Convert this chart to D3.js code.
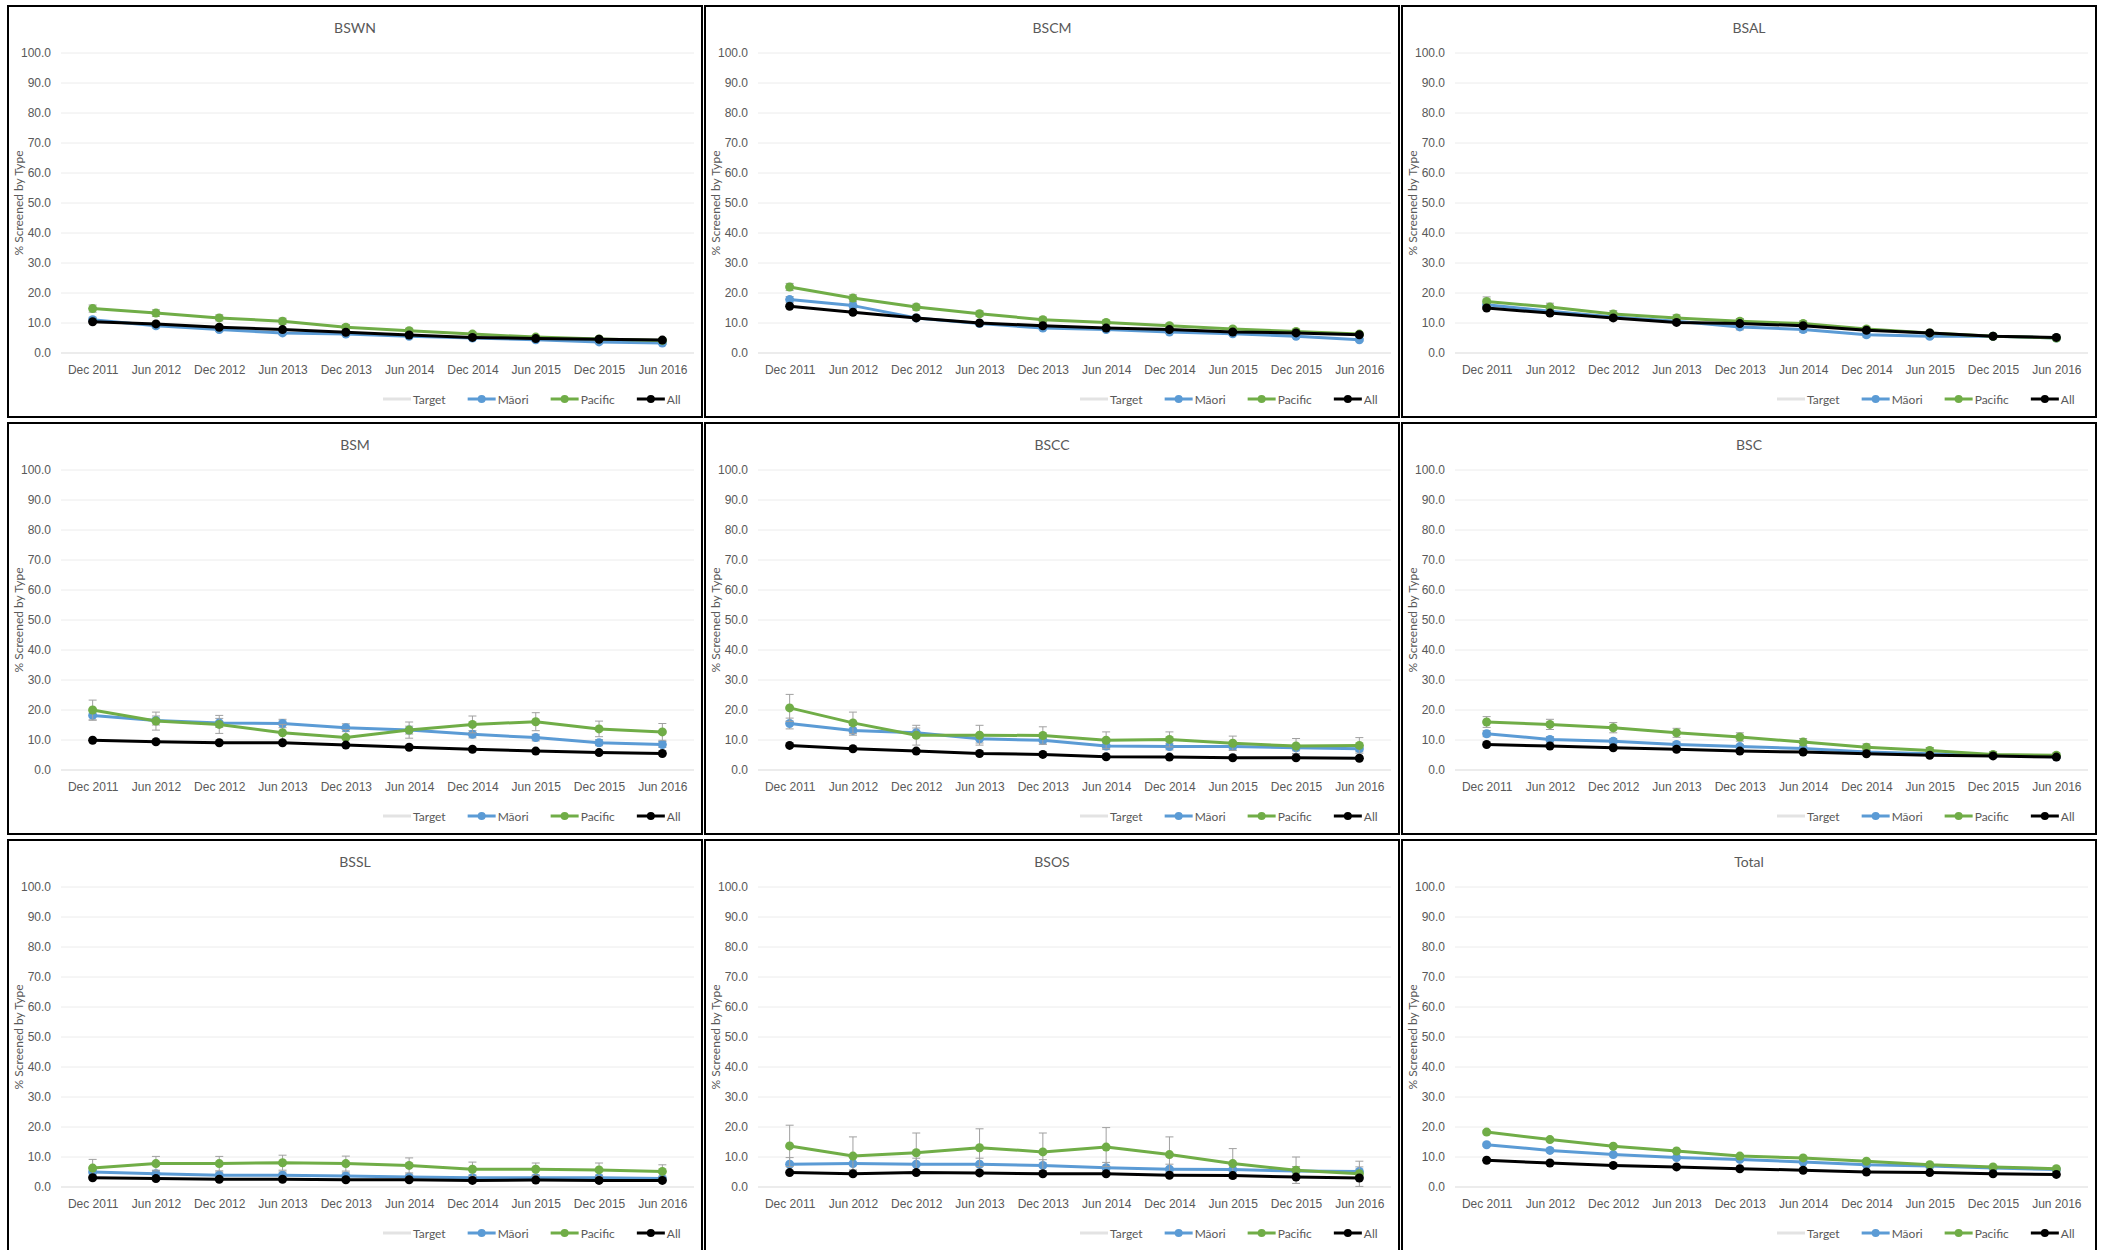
<!DOCTYPE html>
<html>
<head>
<meta charset="utf-8">
<script src="https://cdn.jsdelivr.net/npm/d3@7"></script>
<style>
  html, body { margin: 0; padding: 0; background: #fff; }
  svg { display: block; font-family: Lato, "Open Sans", sans-serif; }
</style>
</head>
<body>
<svg id="chart" width="2105" height="1250"></svg>
<script>
// ---- Data ----
const periods = ["Dec 2011","Jun 2012","Dec 2012","Jun 2013","Dec 2013","Jun 2014","Dec 2014","Jun 2015","Dec 2015","Jun 2016"];
const panelNames = ["BSWN","BSCM","BSAL","BSM","BSCC","BSC","BSSL","BSOS","Total"];
const yTickValues = [0,10,20,30,40,50,60,70,80,90,100];
const legendNames = ["Target","Māori","Pacific","All"];
const yAxisTitle = "% Screened by Type";

const maoriValues = [
  [11.1,9.1,7.8,6.7,6.3,5.6,5.0,4.4,3.7,3.3],
  [17.8,15.8,11.7,9.8,8.3,7.8,7.0,6.4,5.6,4.4],
  [16.1,13.9,12.0,10.6,8.7,7.8,6.1,5.6,5.6,5.0],
  [18.2,16.5,15.7,15.5,14.1,13.3,11.9,10.8,9.1,8.5],
  [15.5,13.2,12.4,10.4,9.9,8.0,7.8,7.8,7.4,7.1],
  [12.1,10.2,9.6,8.5,7.8,7.2,6.0,5.4,4.9,4.4],
  [5.0,4.4,3.9,3.9,3.7,3.3,3.1,3.1,3.1,2.8],
  [7.6,7.8,7.6,7.6,7.2,6.4,5.9,5.8,5.3,5.2],
  [14.1,12.2,10.8,9.8,9.2,8.3,7.4,7.0,6.3,5.8]
];
const pacificValues = [
  [14.8,13.3,11.7,10.6,8.6,7.4,6.3,5.3,4.7,4.2],
  [22.0,18.3,15.3,13.1,11.1,10.2,9.1,8.0,7.2,6.3],
  [17.2,15.3,13.0,11.7,10.6,9.8,8.0,6.7,5.6,5.0],
  [20.0,16.3,15.2,12.4,10.8,13.3,15.2,16.1,13.7,12.7],
  [20.7,15.7,11.6,11.6,11.5,9.9,10.2,8.9,8.0,8.2],
  [16.0,15.2,14.1,12.4,11.0,9.3,7.6,6.5,5.2,4.9],
  [6.3,7.8,7.8,8.1,7.8,7.2,5.9,5.9,5.7,5.2],
  [13.7,10.3,11.4,13.1,11.7,13.3,10.8,7.8,5.6,4.4],
  [18.3,15.8,13.6,12.0,10.3,9.7,8.6,7.4,6.7,6.1]
];
const allValues = [
  [10.4,9.7,8.6,7.8,6.9,6.0,5.2,4.8,4.6,4.3],
  [15.6,13.6,11.7,10.0,9.1,8.3,7.8,7.0,6.7,6.1],
  [15.0,13.3,11.7,10.2,9.8,9.1,7.6,6.7,5.6,5.2],
  [9.9,9.4,9.1,9.1,8.3,7.6,6.9,6.3,5.8,5.5],
  [8.2,7.1,6.3,5.5,5.2,4.4,4.3,4.1,4.1,3.9],
  [8.5,8.0,7.4,6.9,6.3,6.0,5.4,4.9,4.7,4.3],
  [3.1,2.8,2.6,2.6,2.4,2.4,2.2,2.3,2.2,2.2],
  [4.8,4.4,4.8,4.7,4.4,4.4,3.9,3.8,3.3,3.0],
  [8.9,8.0,7.2,6.7,6.1,5.6,5.0,4.8,4.4,4.2]
];
const pacificErrors = [
  [1.2,1.1,1.0,1.0,0.9,0.8,0.7,0.6,0.6,0.5],
  [1.2,1.1,1.0,0.9,0.8,0.7,0.7,0.6,0.6,0.5],
  [1.5,1.3,1.1,1.0,0.9,0.9,0.8,0.7,0.6,0.6],
  [3.3,3.0,3.0,2.8,2.7,2.7,2.8,3.0,2.6,2.8],
  [4.5,3.6,3.3,3.3,2.9,2.8,2.5,2.4,2.5,2.6],
  [1.8,1.7,1.7,1.5,1.4,1.2,1.1,1.0,0.9,0.8],
  [2.9,2.4,2.4,2.5,2.5,2.5,2.4,2.1,2.3,2.2],
  [6.9,6.4,6.6,6.3,6.3,6.5,5.9,5.0,4.4,4.2],
  [0.6,0.5,0.5,0.5,0.4,0.4,0.4,0.3,0.3,0.3]
];
const maoriErrors = [
  [0.8,0.7,0.6,0.6,0.5,0.5,0.5,0.4,0.4,0.4],
  [1.0,0.9,0.8,0.7,0.6,0.6,0.5,0.5,0.5,0.4],
  [1.6,1.4,1.2,1.1,1.0,0.9,0.8,0.7,0.7,0.6],
  [1.6,1.5,1.5,1.4,1.3,1.3,1.2,1.1,1.0,1.0],
  [1.8,1.6,1.6,1.4,1.3,1.2,1.1,1.1,1.0,1.0],
  [1.0,0.9,0.9,0.8,0.7,0.7,0.6,0.6,0.5,0.5],
  [1.3,1.2,1.1,1.1,1.0,1.0,0.9,0.9,0.9,0.8],
  [2.2,2.1,2.0,2.0,1.9,1.8,1.7,1.6,1.5,1.5],
  [0.5,0.4,0.4,0.4,0.4,0.3,0.3,0.3,0.3,0.3]
];

// ---- Layout / style ----
const colLefts = [8, 705, 1402];
const rowTops = [6, 423, 840];
const panelW = 694, panelH = 411;
const plotL = 53, plotR = 686, plotTop = 47, plotBottom = 347;
const colors = { target: "#e3e3e3", maori: "#5b9bd5", pacific: "#70ad47", all: "#000000", err: "#a0a0a0" };
const textColor = "#595959";

const svg = d3.select("#chart");

panelNames.forEach((name, i) => {
  const left = colLefts[i % 3], top = rowTops[Math.floor(i / 3)];
  const g = svg.append("g").attr("transform", `translate(${left},${top})`);

  g.append("rect").attr("x", 0).attr("y", 0).attr("width", panelW).attr("height", panelH)
    .attr("fill", "#fff").attr("stroke", "#000").attr("stroke-width", 2);

  const x = d3.scalePoint().domain(periods).range([plotL, plotR]).padding(0.5);
  const y = d3.scaleLinear().domain([0, 100]).range([plotBottom, plotTop]);

  // gridlines
  g.append("g").selectAll("line").data(yTickValues).join("line")
    .attr("x1", plotL).attr("x2", plotR)
    .attr("y1", d => y(d)).attr("y2", d => y(d))
    .attr("stroke", d => d === 0 ? "#d9d9d9" : "#ececec").attr("stroke-width", 1);

  // y axis
  const ya = g.append("g").attr("transform", `translate(${plotL},0)`)
    .call(d3.axisLeft(y).tickValues(yTickValues).tickFormat(d3.format(".1f")).tickSize(0).tickPadding(10));
  ya.select(".domain").remove();
  ya.selectAll("text").attr("fill", textColor).style("font-size", "12px");

  // x axis
  const xa = g.append("g").attr("transform", `translate(0,${plotBottom})`)
    .call(d3.axisBottom(x).tickSize(0).tickPadding(12));
  xa.select(".domain").remove();
  xa.selectAll("text").attr("fill", textColor).style("font-size", "12px");

  // title
  g.append("text").attr("x", panelW / 2).attr("y", 21).attr("text-anchor", "middle")
    .attr("dominant-baseline", "central").attr("fill", textColor).style("font-size", "14px").text(name);

  // y axis title
  g.append("text").attr("transform", `translate(10,${(plotTop + plotBottom) / 2}) rotate(-90)`)
    .attr("text-anchor", "middle").attr("dominant-baseline", "central")
    .attr("fill", textColor).style("font-size", "12px").text(yAxisTitle);

  const series = [
    { vals: maoriValues[i], errs: maoriErrors[i], color: colors.maori },
    { vals: pacificValues[i], errs: pacificErrors[i], color: colors.pacific },
    { vals: allValues[i], errs: null, color: colors.all }
  ];
  const line = d3.line().x((d, k) => x(periods[k])).y(d => y(d));

  series.forEach(s => {
    if (s.errs) {
      const eg = g.append("g");
      s.vals.forEach((v, k) => {
        const cx = x(periods[k]);
        const y1 = y(v + s.errs[k]), y2 = y(Math.max(0, v - s.errs[k]));
        eg.append("line").attr("x1", cx).attr("x2", cx).attr("y1", y1).attr("y2", y2)
          .attr("stroke", colors.err).attr("stroke-width", 1);
        [y1, y2].forEach(yy => eg.append("line").attr("x1", cx - 4).attr("x2", cx + 4)
          .attr("y1", yy).attr("y2", yy).attr("stroke", colors.err).attr("stroke-width", 1));
      });
    }
    g.append("path").datum(s.vals).attr("d", line).attr("fill", "none")
      .attr("stroke", s.color).attr("stroke-width", 3).attr("stroke-linejoin", "round");
    g.append("g").selectAll("circle").data(s.vals).join("circle")
      .attr("cx", (d, k) => x(periods[k])).attr("cy", d => y(d)).attr("r", 4.5)
      .attr("fill", s.color);
  });

  // legend
  const legColors = [colors.target, colors.maori, colors.pacific, colors.all];
  let lx = 375;
  const ly = 393;
  legendNames.forEach((ln, k) => {
    const lg = g.append("g");
    lg.append("line").attr("x1", lx).attr("x2", lx + 28).attr("y1", ly).attr("y2", ly)
      .attr("stroke", legColors[k]).attr("stroke-width", 3);
    if (k > 0) lg.append("circle").attr("cx", lx + 14).attr("cy", ly).attr("r", 4).attr("fill", legColors[k]);
    const t = lg.append("text").attr("x", lx + 30).attr("y", ly).attr("dominant-baseline", "central")
      .attr("fill", textColor).style("font-size", "12px").text(ln);
    lx += 30 + t.node().getComputedTextLength() + 22;
  });
});
</script>
</body>
</html>
